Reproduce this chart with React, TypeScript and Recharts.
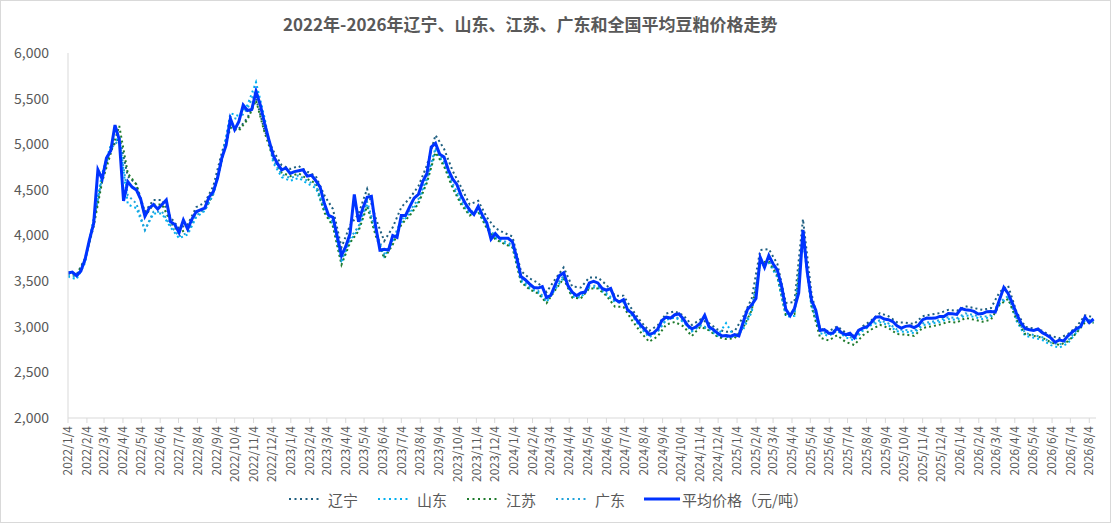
import { LineChart, Line, XAxis, YAxis, Legend } from "recharts";

// weekly sampling dates (read at every Tuesday)
const WEEKS = [
  "2022/1/4","2022/1/11","2022/1/18","2022/1/25","2022/2/1","2022/2/8","2022/2/15","2022/2/22","2022/3/1","2022/3/8",
  "2022/3/15","2022/3/22","2022/3/29","2022/4/5","2022/4/12","2022/4/19","2022/4/26","2022/5/3","2022/5/10","2022/5/17",
  "2022/5/24","2022/5/31","2022/6/7","2022/6/14","2022/6/21","2022/6/28","2022/7/5","2022/7/12","2022/7/19","2022/7/26",
  "2022/8/2","2022/8/9","2022/8/16","2022/8/23","2022/8/30","2022/9/6","2022/9/13","2022/9/20","2022/9/27","2022/10/4",
  "2022/10/11","2022/10/18","2022/10/25","2022/11/1","2022/11/8","2022/11/15","2022/11/22","2022/11/29","2022/12/6","2022/12/13",
  "2022/12/20","2022/12/27",
  "2023/1/3","2023/1/10","2023/1/17","2023/1/24","2023/1/31","2023/2/7","2023/2/14","2023/2/21","2023/2/28","2023/3/7",
  "2023/3/14","2023/3/21","2023/3/28","2023/4/4","2023/4/11","2023/4/18","2023/4/25","2023/5/2","2023/5/9","2023/5/16",
  "2023/5/23","2023/5/30","2023/6/6","2023/6/13","2023/6/20","2023/6/27","2023/7/4","2023/7/11","2023/7/18","2023/7/25",
  "2023/8/1","2023/8/8","2023/8/15","2023/8/22","2023/8/29","2023/9/5","2023/9/12","2023/9/19","2023/9/26","2023/10/3",
  "2023/10/10","2023/10/17","2023/10/24","2023/10/31","2023/11/7","2023/11/14","2023/11/21","2023/11/28","2023/12/5","2023/12/12",
  "2023/12/19","2023/12/26",
  "2024/1/2","2024/1/9","2024/1/16","2024/1/23","2024/1/30","2024/2/6","2024/2/13","2024/2/20","2024/2/27","2024/3/5",
  "2024/3/12","2024/3/19","2024/3/26","2024/4/2","2024/4/9","2024/4/16","2024/4/23","2024/4/30","2024/5/7","2024/5/14",
  "2024/5/21","2024/5/28","2024/6/4","2024/6/11","2024/6/18","2024/6/25","2024/7/2","2024/7/9","2024/7/16","2024/7/23",
  "2024/7/30","2024/8/6","2024/8/13","2024/8/20","2024/8/27","2024/9/3","2024/9/10","2024/9/17","2024/9/24","2024/10/1",
  "2024/10/8","2024/10/15","2024/10/22","2024/10/29","2024/11/5","2024/11/12","2024/11/19","2024/11/26","2024/12/3","2024/12/10",
  "2024/12/17","2024/12/24","2024/12/31",
  "2025/1/7","2025/1/14","2025/1/21","2025/1/28","2025/2/4","2025/2/11","2025/2/18","2025/2/25","2025/3/4","2025/3/11",
  "2025/3/18","2025/3/25","2025/4/1","2025/4/8","2025/4/15","2025/4/22","2025/4/29","2025/5/6","2025/5/13","2025/5/20",
  "2025/5/27","2025/6/3","2025/6/10","2025/6/17","2025/6/24","2025/7/1","2025/7/8","2025/7/15","2025/7/22","2025/7/29",
  "2025/8/5","2025/8/12","2025/8/19","2025/8/26","2025/9/2","2025/9/9","2025/9/16","2025/9/23","2025/9/30","2025/10/7",
  "2025/10/14","2025/10/21","2025/10/28","2025/11/4","2025/11/11","2025/11/18","2025/11/25","2025/12/2","2025/12/9","2025/12/16",
  "2025/12/23","2025/12/30",
  "2026/1/6","2026/1/13","2026/1/20","2026/1/27","2026/2/3","2026/2/10","2026/2/17","2026/2/24","2026/3/3","2026/3/10",
  "2026/3/17","2026/3/24","2026/3/31","2026/4/7","2026/4/14","2026/4/21","2026/4/28","2026/5/5","2026/5/12","2026/5/19",
  "2026/5/26","2026/6/2","2026/6/9","2026/6/16","2026/6/23","2026/6/30","2026/7/7","2026/7/14","2026/7/21","2026/7/28",
  "2026/8/4","2026/8/11",
];

// national average, one value per week
const AVG = [
  3590,3600,3560,3610,3740,3950,4130,4720,4620,4850,
  4930,5210,5050,4380,4590,4530,4500,4400,4210,4300,
  4340,4290,4340,4390,4150,4120,4030,4170,4070,4180,
  4260,4280,4300,4420,4480,4630,4850,4990,5280,5160,
  5250,5430,5370,5380,5580,5430,5230,5050,4880,4790,
  4720,4740,4680,4700,4710,4720,4650,4660,4600,4530,
  4350,4220,4200,3990,3780,3880,4020,4450,4150,4300,
  4420,4430,4100,3840,3850,3840,4000,3980,4220,4220,
  4320,4410,4450,4590,4680,4970,5010,4890,4860,4720,
  4620,4560,4440,4350,4280,4230,4320,4220,4140,3960,
  4020,3970,3970,3970,3930,3760,3550,3515,3470,3430,
  3424,3440,3320,3345,3460,3560,3590,3450,3380,3340,
  3370,3380,3480,3497,3480,3420,3400,3420,3300,3270,
  3297,3180,3150,3080,3020,2970,2915,2931,2975,3070,
  3105,3095,3132,3140,3085,3015,2978,3000,3041,3125,
  3000,2970,2930,2900,2905,2895,2913,2900,3050,3190,
  3240,3310,3760,3650,3780,3690,3620,3442,3190,3120,
  3200,3370,4060,3600,3290,3180,2960,2968,2930,2930,
  2986,2935,2913,2928,2880,2960,2986,3000,3050,3105,
  3110,3085,3077,3057,3010,2986,3004,3010,2990,3015,
  3077,3095,3093,3095,3113,3113,3145,3142,3135,3200,
  3187,3182,3168,3140,3145,3165,3168,3160,3300,3430,
  3365,3260,3140,3041,2980,2968,2960,2975,2935,2910,
  2878,2830,2855,2845,2900,2942,2978,3003,3105,3045,
  3085,
];

// provinces, one value every second week (WEEKS[0], WEEKS[2], ...)
const LIAONING = [
  3600,3570,3750,4140,4630,4940,5080,4650,4560,4260,
  4390,4390,4200,4080,4120,4310,4360,4540,4910,5200,
  5170,5290,5500,5150,4930,4770,4730,4760,4700,4650,
  4440,4290,3870,4110,4240,4510,4190,3940,4090,4310,
  4410,4540,4770,5100,4950,4710,4530,4340,4380,4200,
  4080,4030,3990,3610,3530,3480,3380,3520,3650,3440,
  3430,3540,3540,3460,3340,3340,3190,3060,2955,3015,
  3145,3170,3125,3020,3080,3040,2970,2945,2950,3110,
  3310,3840,3850,3690,3260,3270,4180,3360,2980,2950,
  3005,2935,2900,3005,3070,3150,3115,3050,3045,3030,
  3115,3135,3150,3185,3175,3225,3205,3185,3205,3380,
  3450,3160,3000,2980,2955,2900,2875,2920,3000,3125,
  3105,
];

const SHANDONG = [
  3550,3520,3700,4190,4680,4990,5080,4340,4300,4060,
  4240,4240,4090,3970,4010,4200,4270,4450,4820,5340,
  5310,5430,5680,5290,4800,4640,4600,4630,4570,4520,
  4270,4120,3700,3940,4070,4340,4020,3770,3920,4140,
  4240,4370,4600,4930,4780,4540,4360,4230,4270,4090,
  3970,3920,3880,3500,3420,3374,3270,3410,3540,3330,
  3320,3430,3430,3350,3270,3267,3120,2990,2885,2945,
  3075,3102,3055,2948,3011,2970,2900,3040,2883,2970,
  3160,3680,3700,3540,3110,3120,3960,3210,2930,2900,
  2956,2883,2850,2956,3020,3050,3017,2950,2944,2930,
  3017,3033,3053,3085,3075,3127,3108,3085,3108,3250,
  3315,3060,2900,2880,2855,2798,2770,2820,2938,3065,
  3045,
];

const JIANGSU = [
  3590,3560,3740,4100,4590,4900,5200,4680,4560,4210,
  4340,4340,4150,4030,4070,4260,4280,4460,4830,5180,
  5150,5270,5480,5130,4850,4690,4650,4680,4620,4570,
  4250,4100,3680,3920,4050,4320,4000,3750,3900,4120,
  4220,4350,4580,4910,4760,4520,4340,4220,4260,4080,
  3960,3910,3870,3490,3410,3364,3260,3400,3530,3320,
  3310,3420,3420,3340,3220,3217,3070,2940,2835,2895,
  3025,3052,3005,2898,3001,2960,2890,2865,2873,2990,
  3180,3700,3720,3560,3130,3140,4000,3230,2880,2850,
  2906,2833,2800,2906,2970,3020,2987,2920,2914,2900,
  2987,3003,3023,3055,3045,3097,3078,3055,3078,3240,
  3305,3080,2920,2900,2880,2830,2800,2840,2930,3050,
  3045,
];

const GUANGDONG = [
  3570,3540,3720,4150,4640,4950,5050,4440,4350,4060,
  4260,4260,4110,3990,4030,4220,4280,4460,4830,5300,
  5270,5390,5600,5250,4830,4670,4630,4660,4600,4550,
  4300,4150,3730,3970,4100,4370,4050,3800,3950,4170,
  4270,4400,4630,4960,4810,4570,4390,4250,4290,4110,
  3990,3940,3900,3520,3440,3394,3290,3430,3560,3350,
  3340,3450,3450,3370,3280,3277,3130,3000,2895,2955,
  3085,3112,3065,2958,3021,2980,2910,2885,2893,3000,
  3190,3710,3730,3570,3140,3150,4010,3240,2950,2920,
  2976,2903,2870,2976,3040,3070,3037,2970,2964,2950,
  3037,3053,3073,3105,3095,3147,3128,3105,3128,3270,
  3335,3090,2930,2910,2885,2828,2805,2850,2958,3085,
  3065,
];

const TICK_LABELS = [
  "2022/1/4","2022/2/4","2022/3/4","2022/4/4","2022/5/4","2022/6/4","2022/7/4","2022/8/4","2022/9/4","2022/10/4","2022/11/4","2022/12/4",
  "2023/1/4","2023/2/4","2023/3/4","2023/4/4","2023/5/4","2023/6/4","2023/7/4","2023/8/4","2023/9/4","2023/10/4","2023/11/4","2023/12/4",
  "2024/1/4","2024/2/4","2024/3/4","2024/4/4","2024/5/4","2024/6/4","2024/7/4","2024/8/4","2024/9/4","2024/10/4","2024/11/4","2024/12/4",
  "2025/1/4","2025/2/4","2025/3/4","2025/4/4","2025/5/4","2025/6/4","2025/7/4","2025/8/4","2025/9/4","2025/10/4","2025/11/4","2025/12/4",
  "2026/1/4","2026/2/4","2026/3/4","2026/4/4","2026/5/4","2026/6/4","2026/7/4","2026/8/4",
];

const Y_TICKS = [2000, 2500, 3000, 3500, 4000, 4500, 5000, 5500, 6000];

const FONT = "'Noto Sans CJK SC', 'Noto Sans', sans-serif";
const TEXT = "#595959";

const SERIES = [
  { key: "ln", name: "辽宁", color: "#1F5F80" },
  { key: "sd", name: "山东", color: "#00B0F0" },
  { key: "js", name: "江苏", color: "#1E7A2C" },
  { key: "gd", name: "广东", color: "#22A3DA" },
];
const AVG_NAME = "平均价格（元/吨）";
const AVG_COLOR = "#0033FF";

const toTime = (s: string) => {
  const [y, m, d] = s.split("/").map(Number);
  return Date.UTC(y, m - 1, d);
};

const tickTimes = TICK_LABELS.map(toTime);
const labelByTime: Record<number, string> = {};
TICK_LABELS.forEach((l, i) => (labelByTime[tickTimes[i]] = l));

const data = WEEKS.map((w, i) => {
  const half = i % 2 === 0 ? i / 2 : -1;
  return {
    t: toTime(w),
    avg: AVG[i],
    ln: half >= 0 ? LIAONING[half] : null,
    sd: half >= 0 ? SHANDONG[half] : null,
    js: half >= 0 ? JIANGSU[half] : null,
    gd: half >= 0 ? GUANGDONG[half] : null,
  };
});

const DateTick = (props: any) => {
  const { x, y, payload } = props;
  return (
    <g transform={`translate(${x},${y})`}>
      <text
        transform="rotate(-90)"
        textAnchor="end"
        dy="0.35em"
        fontSize={12}
        fill={TEXT}
        fontFamily={FONT}
      >
        {labelByTime[payload.value]}
      </text>
    </g>
  );
};

const renderLegend = () => (
  <div
    style={{
      display: "flex",
      justifyContent: "center",
      alignItems: "center",
      height: 30,
      fontFamily: FONT,
      fontSize: 15,
      color: TEXT,
    }}
  >
    {SERIES.map((s) => (
      <span key={s.key} style={{ display: "flex", alignItems: "center", marginRight: 19 }}>
        <svg width={32} height={6} style={{ marginRight: 8 }}>
          <line x1={1} y1={3} x2={32} y2={3} stroke={s.color} strokeWidth={2} strokeDasharray="2 3.5" />
        </svg>
        {s.name}
      </span>
    ))}
    <span style={{ display: "flex", alignItems: "center" }}>
      <svg width={36} height={6} style={{ marginRight: 2 }}>
        <line x1={0} y1={3} x2={36} y2={3} stroke={AVG_COLOR} strokeWidth={3} />
      </svg>
      {AVG_NAME}
    </span>
  </div>
);

export default function App() {
  return (
    <div
      style={{
        position: "absolute",
        left: 0,
        top: 0,
        width: 1111,
        height: 523,
        background: "#fff",
        boxSizing: "border-box",
        border: "1px solid #D9D9D9",
      }}
    >
      <div
        style={{
          position: "absolute",
          left: 282,
          top: 10,
          fontFamily: FONT,
          fontSize: 17,
          fontWeight: 700,
          color: TEXT,
          whiteSpace: "nowrap",
        }}
      >
        2022年-2026年辽宁、山东、江苏、广东和全国平均豆粕价格走势
      </div>
      <div style={{ position: "absolute", left: -1, top: -1 }}>
        <LineChart
          width={1111}
          height={523}
          data={data}
          margin={{ top: 53, right: 15, left: 0, bottom: 9 }}
        >
          <XAxis
            dataKey="t"
            type="number"
            scale="time"
            domain={[toTime("2022/1/4"), toTime("2026/8/15")]}
            ticks={tickTimes}
            interval={0}
            tick={<DateTick />}
            tickSize={5}
            tickMargin={3}
            height={66}
            stroke="#D9D9D9"
            allowDataOverflow
          />
          <YAxis
            domain={[2000, 6000]}
            ticks={Y_TICKS}
            width={68}
            tickLine={false}
            tickSize={0}
            tickMargin={19}
            stroke="#D9D9D9"
            tick={{ fill: TEXT, fontSize: 14, fontFamily: FONT }}
            tickFormatter={(v: number) => v.toLocaleString("en-US")}
          />
          <Legend verticalAlign="bottom" content={renderLegend} height={30} />
          {SERIES.map((s) => (
            <Line
              key={s.key}
              dataKey={s.key}
              name={s.name}
              stroke={s.color}
              strokeWidth={2}
              strokeDasharray="2 3"
              dot={false}
              activeDot={false}
              connectNulls
              isAnimationActive={false}
              type="linear"
            />
          ))}
          <Line
            dataKey="avg"
            name={AVG_NAME}
            stroke={AVG_COLOR}
            strokeWidth={3}
            dot={false}
            activeDot={false}
            isAnimationActive={false}
            type="linear"
          />
        </LineChart>
      </div>
    </div>
  );
}
